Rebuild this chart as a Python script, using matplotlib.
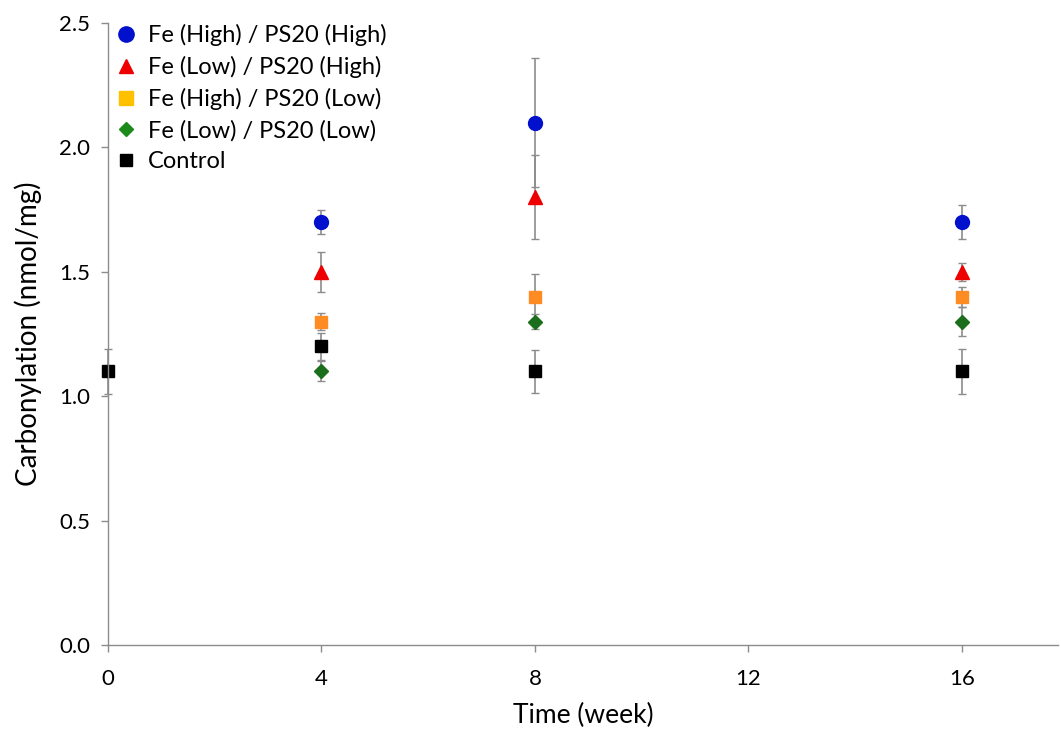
import numpy as np
import matplotlib.pyplot as plt
from matplotlib.lines import Line2D

plt.rcParams['font.family'] = ['Lato', 'DejaVu Sans']

# data
weeks = [0, 4, 8, 16]
labels = ["Fe (High) / PS20 (High)", "Fe (Low) / PS20 (High)",
          "Fe (High) / PS20 (Low)", "Fe (Low) / PS20 (Low)", "Control"]

hh_x = [4, 8, 16]
hh_y = [1.7, 2.1, 1.7]
hh_err = [0.05, 0.26, 0.07]

lh_x = [4, 8, 16]
lh_y = [1.5, 1.8, 1.5]
lh_err = [0.08, 0.17, 0.035]

hl_x = [4, 8, 16]
hl_y = [1.3, 1.4, 1.4]
hl_err = [0.035, 0.09, 0.04]

ll_x = [4, 8, 16]
ll_y = [1.1, 1.3, 1.3]
ll_err = [0.04, 0.03, 0.06]

ctl_x = [0, 4, 8, 16]
ctl_y = [1.1, 1.2, 1.1, 1.1]
ctl_err = [0.09, 0.055, 0.087, 0.09]

fig = plt.figure(figsize=(10.61, 7.37), dpi=100)
ax = fig.add_axes([0.1018, 0.1248, 0.8954, 0.844])

err_kw = dict(ecolor='#8c8c8c', elinewidth=1.2, capsize=3, capthick=1.0,
              linestyle='none', clip_on=False)

ax.errorbar(ctl_x, ctl_y, yerr=ctl_err, marker='s', ms=9, color='black', **err_kw)
ax.errorbar(ll_x, ll_y, yerr=ll_err, marker='D', ms=7, color='#1b6e1b', **err_kw)
ax.errorbar(hl_x, hl_y, yerr=hl_err, marker='s', ms=9, color='#ff8c22', **err_kw)
ax.errorbar(lh_x, lh_y, yerr=lh_err, marker='^', ms=10, color='#ee0000', **err_kw)
ax.errorbar(hh_x, hh_y, yerr=hh_err, marker='o', ms=10, color='#0010cc', **err_kw)

ax.set_xlim(0, 17.8)
ax.set_ylim(0, 2.5)
ax.set_xticks([0, 4, 8, 12, 16])
ax.set_yticks(np.arange(0, 2.51, 0.5))
ax.set_yticklabels(["%.1f" % v for v in np.arange(0, 2.51, 0.5)])
ax.tick_params(labelsize=16, length=5, color='#8c8c8c', width=1)
ax.tick_params(axis='x', pad=12)
ax.tick_params(axis='y', pad=8)

for s in ['top', 'right']:
    ax.spines[s].set_visible(False)
for s in ['left', 'bottom']:
    ax.spines[s].set_color('#8c8c8c')
    ax.spines[s].set_linewidth(1)

ax.set_xlabel("Time (week)", fontsize=19, labelpad=10)
ax.set_ylabel("Carbonylation (nmol/mg)", fontsize=20, labelpad=12)

handles = [
    Line2D([], [], marker='o', ms=11, color='#0010cc', ls='none'),
    Line2D([], [], marker='^', ms=10, color='#ee0000', ls='none'),
    Line2D([], [], marker='s', ms=10, color='#ffc000', ls='none'),
    Line2D([], [], marker='D', ms=7, color='#1b8a1b', ls='none'),
    Line2D([], [], marker='s', ms=9, color='black', ls='none'),
]
ax.legend(handles, labels, loc='upper left', bbox_to_anchor=(-0.018, 1.033),
          frameon=False, fontsize=17, handletextpad=0.3, labelspacing=0.42,
          handlelength=1.2)

fig.savefig("out.png", dpi=100)
